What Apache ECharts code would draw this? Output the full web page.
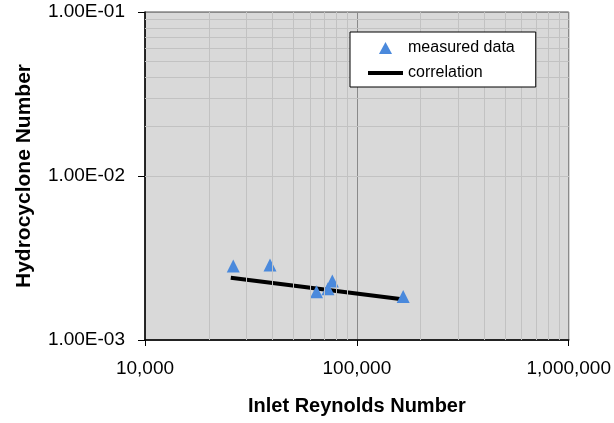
<!DOCTYPE html>
<html>
<head>
<meta charset="utf-8">
<script src="https://cdn.jsdelivr.net/npm/echarts@6/dist/echarts.min.js"></script>
<style>
  html, body { margin: 0; padding: 0; background: #fff; }
  #chart { width: 614px; height: 423px; }
</style>
</head>
<body>
<div id="chart"></div>
<script>
// Measured hydrocyclone numbers against inlet Reynolds number
const measuredRe = [26100, 38900, 64500, 73000, 76600, 165400];
const measuredHy = [0.00283, 0.00287, 0.00197, 0.00205, 0.00229, 0.00184];

// Power-law correlation, drawn between its end points
const correlationRe = [25400, 160000];
const correlationHy = [0.00240, 0.00178];

// Minor (2..9) gridline positions per decade
const xMinor = [20000, 30000, 40000, 50000, 60000, 70000, 80000, 90000,
                200000, 300000, 400000, 500000, 600000, 700000, 800000, 900000];
const yMinor = [0.002, 0.003, 0.004, 0.005, 0.006, 0.007, 0.008, 0.009,
                0.02, 0.03, 0.04, 0.05, 0.06, 0.07, 0.08, 0.09];

const FONT = '"Liberation Sans", Arial, Helvetica, sans-serif';

function sciLabel(v) {
  const e = Math.round(Math.log10(v));
  const m = v / Math.pow(10, e);
  const sign = e < 0 ? '-' : '+';
  const ee = String(Math.abs(e)).padStart(2, '0');
  return m.toFixed(2) + 'E' + sign + ee;
}

const chart = echarts.init(document.getElementById('chart'), null, { renderer: 'canvas' });

const minorLines = []
  .concat(xMinor.map(v => ({ xAxis: v })))
  .concat(yMinor.map(v => ({ yAxis: v })));

chart.setOption({
  animation: false,
  textStyle: { fontFamily: FONT },
  grid: {
    left: 145, top: 12, right: 45, bottom: 83,
    show: true,
    backgroundColor: '#d9d9d9',
    borderColor: '#4d4d4d',
    borderWidth: 1
  },
  legend: {
    data: [
      { name: 'measured data', icon: 'path://M6,0 L12,11 L0,11 Z' },
      { name: 'correlation', icon: 'path://M0,0 L35,0 L35,4 L0,4 Z' }
    ],
    orient: 'vertical',
    left: 350, top: 32,
    padding: [8, 21, 6, 18],
    itemGap: 9,
    itemWidth: 35,
    itemHeight: 12,
    symbolKeepAspect: true,
    z: 50,
    backgroundColor: '#fff',
    borderColor: '#000',
    borderWidth: 1,
    textStyle: { fontFamily: FONT, fontSize: 16, color: '#000' }
  },
  xAxis: {
    type: 'log',
    logBase: 10,
    min: 10000,
    max: 1000000,
    name: 'Inlet Reynolds Number',
    nameLocation: 'middle',
    nameGap: 56,
    nameTextStyle: { fontFamily: FONT, fontSize: 20, fontWeight: 'bold', color: '#000' },
    axisLine: { show: true, onZero: false, lineStyle: { color: '#000', width: 1.5 } },
    axisTick: { show: true, inside: false, length: 6, lineStyle: { color: '#000' } },
    axisLabel: {
      margin: 19,
      fontFamily: FONT, fontSize: 19, color: '#000',
      formatter: v => Math.round(v).toLocaleString('en-US')
    },
    splitLine: { show: true, lineStyle: { color: '#8a8a8a', width: 1 } }
  },
  yAxis: {
    type: 'log',
    logBase: 10,
    min: 0.001,
    max: 0.1,
    name: 'Hydrocyclone Number',
    nameLocation: 'middle',
    nameGap: 110,
    nameTextStyle: { fontFamily: FONT, fontSize: 21, fontWeight: 'bold', color: '#000' },
    axisLine: { show: true, onZero: false, lineStyle: { color: '#000', width: 1.5 } },
    axisTick: { show: true, inside: false, length: 7, lineStyle: { color: '#000' } },
    axisLabel: {
      margin: 20,
      fontFamily: FONT, fontSize: 19, color: '#000',
      formatter: v => sciLabel(v)
    },
    splitLine: { show: true, lineStyle: { color: '#8a8a8a', width: 1 } }
  },
  series: [
    {
      name: 'minor grid',
      type: 'line',
      data: [],
      silent: true,
      z: 0,
      markLine: {
        silent: true,
        symbol: 'none',
        label: { show: false },
        animation: false,
        lineStyle: { color: '#c2c2c2', width: 1, type: 'solid' },
        emphasis: { disabled: true },
        data: minorLines
      }
    },
    {
      name: 'correlation',
      type: 'line',
      data: correlationRe.map((x, i) => [x, correlationHy[i]]),
      showSymbol: false,
      symbol: 'none',
      lineStyle: { color: '#000', width: 4 },
      itemStyle: { color: '#000' },
      z: 3
    },
    {
      name: 'measured data',
      type: 'scatter',
      symbol: 'triangle',
      symbolSize: 13,
      data: measuredRe.map((x, i) => [x, measuredHy[i]]),
      itemStyle: { color: '#4a89dc', opacity: 1 },
      z: 4
    }
  ]
});
</script>
</body>
</html>
